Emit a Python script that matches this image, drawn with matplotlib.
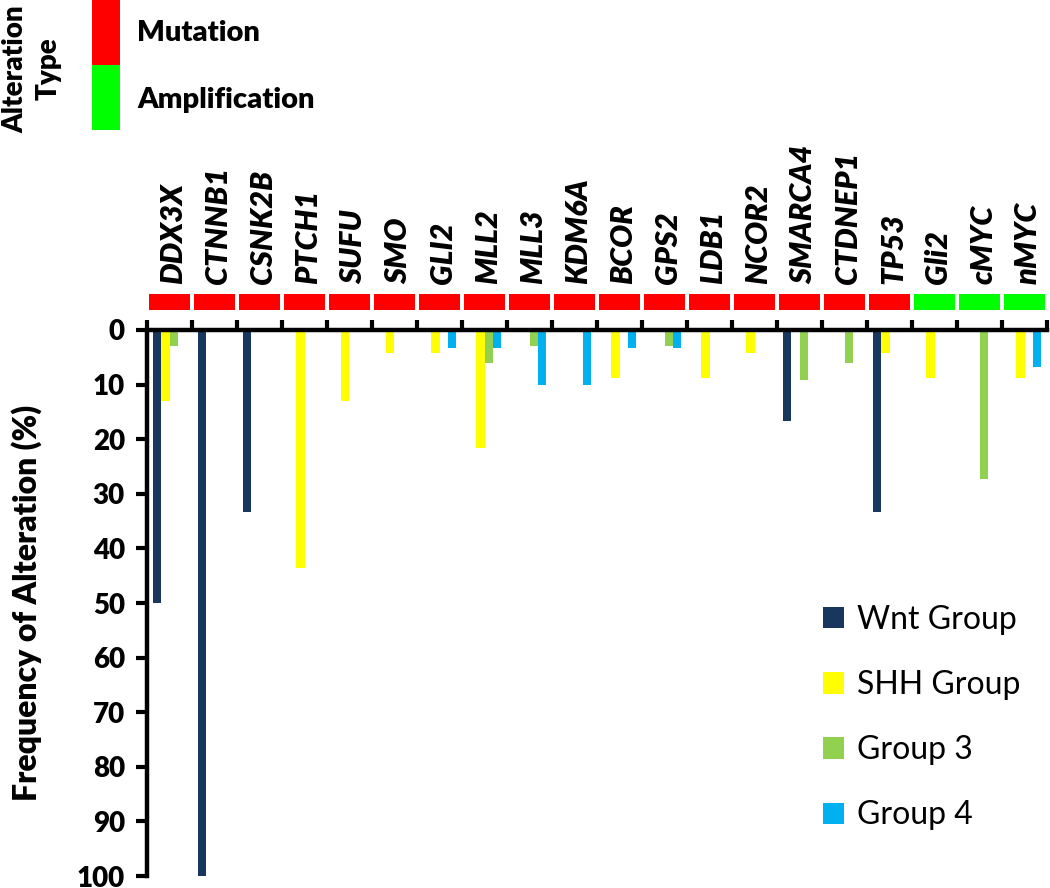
import numpy as np
import matplotlib.pyplot as plt
import matplotlib.transforms as mtransforms

plt.rcParams['font.family'] = ['Lato', 'DejaVu Sans']

# genes and alteration type
genes = ['DDX3X', 'CTNNB1', 'CSNK2B', 'PTCH1', 'SUFU', 'SMO', 'GLI2', 'MLL2', 'MLL3',
         'KDM6A', 'BCOR', 'GPS2', 'LDB1', 'NCOR2', 'SMARCA4', 'CTDNEP1', 'TP53',
         'Gli2', 'cMYC', 'nMYC']
alt_type = ['Mutation'] * 17 + ['Amplification'] * 3

# frequency of alteration (%) per subgroup
wnt = [50, 100, 33.3, 0, 0, 0, 0, 0, 0, 0, 0, 0, 0, 0, 16.7, 0, 33.3, 0, 0, 0]
shh = [13, 0, 0, 43.5, 13, 4.3, 4.3, 21.7, 0, 0, 8.7, 0, 8.7, 4.3, 0, 0, 4.3, 8.7, 0, 8.7]
grp3 = [3, 0, 0, 0, 0, 0, 0, 6.1, 3, 0, 0, 3, 0, 0, 9.1, 6.1, 0, 0, 27.3, 0]
grp4 = [0, 0, 0, 0, 0, 0, 3.3, 3.3, 10, 10, 3.3, 3.3, 0, 0, 0, 0, 0, 0, 0, 6.7]

series = [('Wnt Group', wnt, '#17375E'),
          ('SHH Group', shh, '#FFFF00'),
          ('Group 3', grp3, '#92D050'),
          ('Group 4', grp4, '#00B0F0')]
type_colors = {'Mutation': '#FF0000', 'Amplification': '#00FF00'}

W, H = 1050, 888
BOLD = 'heavy'
fig = plt.figure(figsize=(W / 100, H / 100), dpi=100)

# main axes
left, right = 147 / W, 1047 / W
top, bottom = 1 - 330 / H, 1 - 876 / H
ax = fig.add_axes([left, bottom, right - left, top - bottom])

x = np.arange(len(genes)) + 0.5
bw = 0.18
offsets = [-0.27, -0.09, 0.09, 0.27]
handles = []
for (name, vals, col), off in zip(series, offsets):
    b = ax.bar(x + off, vals, width=bw, color=col, linewidth=0, label=name)
    handles.append(b)

ax.set_xlim(0, len(genes))
ax.set_ylim(100, 0)
ax.spines['bottom'].set_visible(False)
ax.spines['right'].set_visible(False)
ax.spines['top'].set_linewidth(3.2)
ax.spines['left'].set_linewidth(3.2)
ax.xaxis.tick_top()
ax.set_xticks(np.arange(len(genes) + 1))
ax.set_xticklabels([])
ax.tick_params(axis='x', direction='out', length=7, width=3)
ax.set_yticks(np.arange(0, 101, 10))
ax.tick_params(axis='y', direction='out', length=8, width=3, labelsize=20, pad=8)
for lab in ax.get_yticklabels():
    lab.set_fontweight(BOLD)

fig.text(27 / W, 1 - 603 / H, 'Frequency of Alteration (%)', rotation=90,
         ha='center', va='center', fontsize=23, fontweight=BOLD)

# alteration type row
ax_box = fig.add_axes([left, 1 - 310 / H, right - left, 16 / H])
ax_box.bar(x, 1, width=0.9, color=[type_colors[t] for t in alt_type], linewidth=0)
ax_box.set_xlim(0, len(genes))
ax_box.set_ylim(0, 1)
ax_box.axis('off')

# gene names
trans = mtransforms.blended_transform_factory(ax.transData, fig.transFigure)
for xi, g in zip(x, genes):
    ax.text(xi + 0.08, 1 - 284 / H, g, transform=trans, rotation=90, ha='center',
            va='bottom', fontsize=22, fontweight=BOLD, fontstyle='italic')

# alteration type key
ax_key = fig.add_axes([92 / W, 1 - 130 / H, 28 / W, 130 / H])
kinds = ['Amplification', 'Mutation']
ax_key.bar([0, 0], [1, 1], bottom=[0, 1], width=1,
           color=[type_colors[k] for k in kinds], linewidth=0)
ax_key.set_xlim(-0.5, 0.5)
ax_key.set_ylim(0, 2)
ax_key.axis('off')
fig.text(137 / W, 1 - 33 / H, 'Mutation', ha='left', va='center', fontsize=21, fontweight=BOLD)
fig.text(137 / W, 1 - 100 / H, 'Amplification', ha='left', va='center', fontsize=21,
         fontweight=BOLD)
fig.text(32 / W, 1 - 69 / H, 'Alteration\nType', rotation=90, ha='center', va='center',
         fontsize=20, fontweight=BOLD, linespacing=1.35)

# subgroup legend
ax.legend(handles=handles, loc='upper left', bbox_to_anchor=(823 / W, 1 - 605 / H),
          bbox_transform=fig.transFigure, frameon=False, fontsize=23,
          handlelength=0.65, handleheight=0.65, handletextpad=0.4, labelspacing=1.1,
          borderpad=0, borderaxespad=0)

fig.savefig('out.png', dpi=100)
